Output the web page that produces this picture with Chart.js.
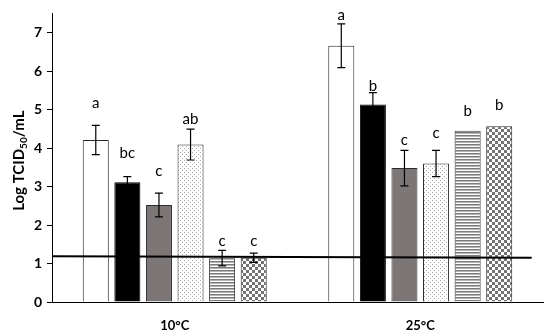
<!DOCTYPE html>
<html>
<head>
<meta charset="utf-8">
<script src="https://cdn.jsdelivr.net/npm/chart.js@4.4.1/dist/chart.umd.min.js"></script>
<style>
  html, body { margin: 0; padding: 0; background: #fff; }
  #wrap { width: 550px; height: 334px; position: relative; }
</style>
</head>
<body>
<div id="wrap"><canvas id="chart"></canvas></div>
<script>
const categories = ['10°C', '25°C'];
const yTicks = [0, 1, 2, 3, 4, 5, 6, 7];

// six treatments, values per temperature
const whiteMeans = [4.21, 6.66];
const whiteErr = [0.38, 0.57];
const whiteLetters = ['a', 'a'];
const whiteLetterAt = [5.05, 7.33];

const blackMeans = [3.11, 5.13];
const blackErr = [0.15, 0.31];
const blackLetters = ['bc', 'b'];
const blackLetterAt = [3.73, 5.49];

const grayMeans = [2.52, 3.48];
const grayErr = [0.31, 0.46];
const grayLetters = ['c', 'c'];
const grayLetterAt = [3.28, 4.09];

const dottedMeans = [4.09, 3.60];
const dottedErr = [0.40, 0.34];
const dottedLetters = ['ab', 'c'];
const dottedLetterAt = [4.63, 4.27];

const stripedMeans = [1.14, 4.45];
const stripedErr = [0.20, 0];
const stripedLetters = ['c', 'b'];
const stripedLetterAt = [1.45, 4.84];

const checkedMeans = [1.15, 4.57];
const checkedErr = [0.12, 0];
const checkedLetters = ['c', 'b'];
const checkedLetterAt = [1.45, 5.0];

// detection limit line: value at the left edge and where it stops on the right
const limitLine = [1.19, 1.15];
const limitLineEnd = 0.977;

function makePattern(size, paint) {
  const c = document.createElement('canvas');
  c.width = size;
  c.height = size;
  const g = c.getContext('2d');
  g.fillStyle = '#fff';
  g.fillRect(0, 0, size, size);
  paint(g);
  return document.getElementById('chart').getContext('2d').createPattern(c, 'repeat');
}

const dotFill = makePattern(4, (g) => {
  g.fillStyle = '#a8a8a8';
  g.fillRect(0, 0, 1, 1);
  g.fillRect(2, 2, 1, 1);
});
const stripeFill = makePattern(3, (g) => {
  g.fillStyle = '#7a7a7a';
  g.fillRect(0, 0, 3, 1);
  g.fillStyle = '#b5b5b5';
  g.fillRect(0, 1, 3, 1);
});
const checkFill = makePattern(6, (g) => {
  g.fillStyle = '#737373';
  g.fillRect(0, 0, 3, 3);
  g.fillRect(3, 3, 3, 3);
});

const series = [
  { means: whiteMeans, err: whiteErr, letters: whiteLetters, at: whiteLetterAt, fill: '#ffffff', border: '#2b2b2b' },
  { means: blackMeans, err: blackErr, letters: blackLetters, at: blackLetterAt, fill: '#000000', border: '#000000' },
  { means: grayMeans, err: grayErr, letters: grayLetters, at: grayLetterAt, fill: '#7c7676', border: '#2b2b2b' },
  { means: dottedMeans, err: dottedErr, letters: dottedLetters, at: dottedLetterAt, fill: dotFill, border: '#2b2b2b' },
  { means: stripedMeans, err: stripedErr, letters: stripedLetters, at: stripedLetterAt, fill: stripeFill, border: '#2b2b2b' },
  { means: checkedMeans, err: checkedErr, letters: checkedLetters, at: checkedLetterAt, fill: checkFill, border: '#2b2b2b' }
];

const barDatasets = series.map((s, i) => ({
  label: 'T' + (i + 1),
  data: s.means,
  backgroundColor: s.fill,
  borderColor: s.border,
  borderWidth: 1,
  errors: s.err,
  letters: s.letters,
  letterAt: s.at
}));

const limitAndErrors = {
  id: 'limitAndErrors',
  afterDatasetsDraw(chart) {
    const ctx = chart.ctx;
    const y = chart.scales.y;
    const area = chart.chartArea;
    ctx.save();

    // limit line on top of the bars
    ctx.strokeStyle = '#000';
    ctx.lineWidth = 2;
    ctx.beginPath();
    ctx.moveTo(area.left, y.getPixelForValue(limitLine[0]));
    ctx.lineTo(area.left + (area.right - area.left) * limitLineEnd, y.getPixelForValue(limitLine[1]));
    ctx.stroke();

    ctx.lineWidth = 1.2;
    ctx.fillStyle = '#000';
    ctx.font = '15px Lato';
    ctx.textAlign = 'center';
    ctx.textBaseline = 'alphabetic';
    chart.data.datasets.forEach((ds, di) => {
      const meta = chart.getDatasetMeta(di);
      ds.data.forEach((v, j) => {
        const el = meta.data[j];
        if (!el) return;
        const e = ds.errors[j];
        if (e > 0) {
          const top = y.getPixelForValue(v + e);
          const bot = y.getPixelForValue(v - e);
          ctx.beginPath();
          ctx.moveTo(el.x, top);
          ctx.lineTo(el.x, bot);
          ctx.moveTo(el.x - 4, top);
          ctx.lineTo(el.x + 4, top);
          ctx.moveTo(el.x - 4, bot);
          ctx.lineTo(el.x + 4, bot);
          ctx.stroke();
        }
        ctx.fillText(ds.letters[j], el.x, y.getPixelForValue(ds.letterAt[j]));
      });
    });
    ctx.restore();
  }
};

const yTitle = {
  id: 'yTitle',
  afterDraw(chart) {
    const ctx = chart.ctx;
    const area = chart.chartArea;
    ctx.save();
    ctx.translate(24, (area.top + area.bottom) / 2 + 3);
    ctx.rotate(-Math.PI / 2);
    ctx.fillStyle = '#000';
    ctx.textBaseline = 'alphabetic';
    const big = 'bold 15px Lato';
    const small = 'bold 10px Lato';
    ctx.font = big;
    const w1 = ctx.measureText('Log TCID').width;
    const w3 = ctx.measureText('/mL').width;
    ctx.font = small;
    const w2 = ctx.measureText('50').width;
    let x = -(w1 + w2 + w3) / 2;
    ctx.font = big;
    ctx.fillText('Log TCID', x, 0);
    x += w1;
    ctx.font = small;
    ctx.fillText('50', x, 3);
    x += w2;
    ctx.font = big;
    ctx.fillText('/mL', x, 0);
    ctx.restore();
  }
};

new Chart(document.getElementById('chart'), {
  type: 'bar',
  data: {
    labels: categories,
    datasets: barDatasets
  },
  options: {
    animation: false,
    responsive: true,
    maintainAspectRatio: false,
    categoryPercentage: 0.772,
    barPercentage: 0.824,
    layout: { padding: { top: 12, right: 7, left: 0, bottom: 0 } },
    plugins: {
      legend: { display: false },
      tooltip: { enabled: false }
    },
    scales: {
      x: {
        grid: { display: false },
        border: { color: '#000', width: 1 },
        ticks: { color: '#000', font: { family: 'Lato', size: 13, weight: 'bold' }, padding: 8 },
        afterFit(scale) { scale.height = 32; }
      },
      y: {
        min: 0,
        max: 7.5,
        border: { color: '#000', width: 1 },
        grid: { drawOnChartArea: false, drawTicks: true, tickLength: 5, color: '#000' },
        ticks: {
          stepSize: 1,
          includeBounds: false,
          color: '#000',
          padding: 5,
          font: { family: 'Lato', size: 14, weight: 'bold' },
          callback: (v) => (yTicks.includes(v) ? String(v) : '')
        },
        afterFit(scale) { scale.width = 52; }
      }
    }
  },
  plugins: [limitAndErrors, yTitle]
});
</script>
</body>
</html>
